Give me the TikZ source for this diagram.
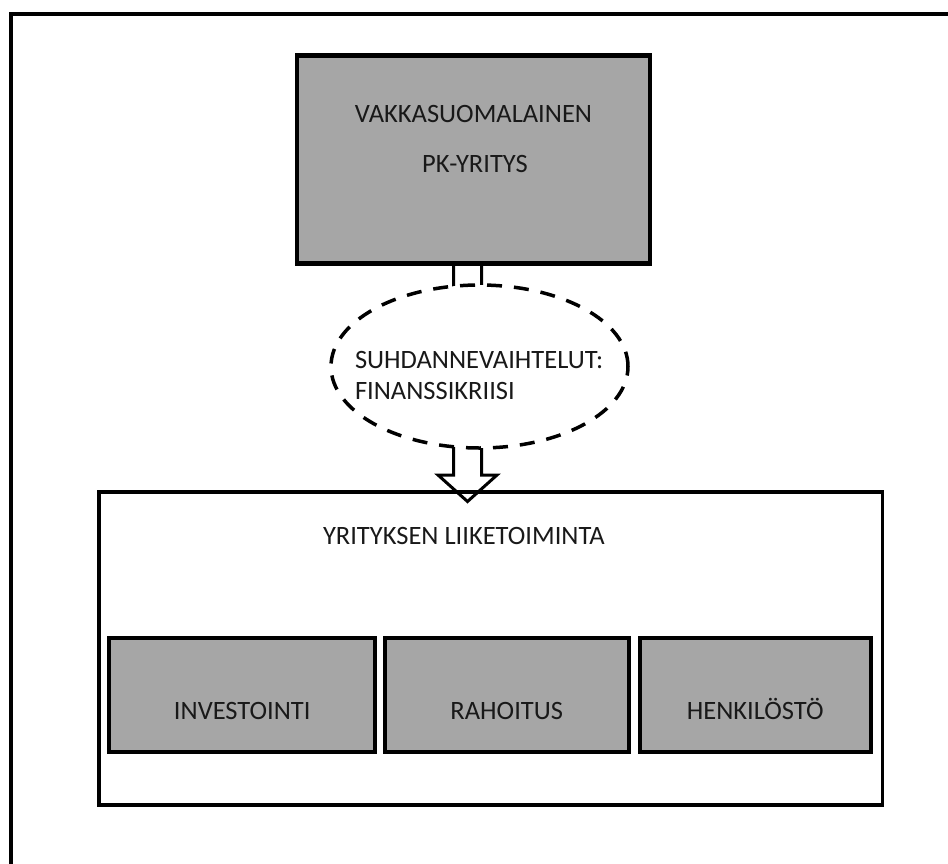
\documentclass[tikz,border=0pt]{standalone}
\usepackage{fontspec}
\setmainfont{Carlito}
\usetikzlibrary{shapes.geometric,calc}
\definecolor{boxgray}{HTML}{A6A6A6}
\tikzset{
  frameline/.style={draw=black, line width=3.5bp, line cap=rect},
  firmbox/.style={draw=black, line width=4.5bp, fill=boxgray, rectangle, inner sep=0pt, outer sep=0pt},
  workbox/.style={draw=black, line width=3.5bp, rectangle, inner sep=0pt, outer sep=0pt},
  subbox/.style={draw=black, line width=4bp, fill=boxgray, rectangle, inner sep=0pt, outer sep=0pt},
  cyclebox/.style={draw=black, line width=3.5bp, dash pattern=on 15bp off 12bp, fill=white, ellipse, inner sep=0pt, outer sep=0pt},
  blockarrow/.style={draw=black, line width=3bp, line join=miter},
  txt/.style={font=\fontsize{26.5bp}{31bp}\selectfont, inner sep=0pt, outer sep=0pt, text=black!90},
}
\begin{document}
\begin{tikzpicture}[x=1bp, y=-1bp]
\useasboundingbox (0,0) rectangle (948,864);

% outer frame: its right and bottom sides fall beyond the page edge
\coordinate (pageBL) at (11,864);
\coordinate (pageTL) at (11,14);
\coordinate (pageTR) at (948,14);
\draw[frameline] (pageBL) -- (pageTL) -- (pageTR);

% company box
\node[firmbox, minimum width=353bp, minimum height=208bp] (firm) at (473.5,159.5) {};
\node[txt, anchor=base] (firmA) at (473.5,122) {VAKKASUOMALAINEN};
\node[txt, anchor=base] (firmB) at (475,172) {PK-YRITYS};

% business operations box with its three parts
\node[workbox, minimum width=783.5bp, minimum height=313bp] (work) at (490.75,648.5) {};
\node[txt, anchor=base west] (workT) at (323,544) {YRITYKSEN LIIKETOIMINTA};

\node[subbox, minimum width=265.5bp, minimum height=114bp] (inv) at (242.25,695) {};
\node[subbox, minimum width=243.5bp, minimum height=114bp] (rah) at (506.75,695) {};
\node[subbox, minimum width=231.5bp, minimum height=114bp] (hen) at (755.25,695) {};
\node[txt, anchor=base] (invT) at (242.25,719) {INVESTOINTI};
\node[txt, anchor=base] (rahT) at (506.75,719) {RAHOITUS};
\node[txt, anchor=base] (henT) at (755.25,719) {HENKILÖSTÖ};

% hollow block arrow from the company down to its operations
\draw[blockarrow]
  ($(firm.south)+(-20,0)$)
  -- ($(firm.south |- work.north)+(-20,-17)$)
  -- ($(firm.south |- work.north)+(-35.5,-17)$)
  -- ($(firm.south |- work.north)+(-6,9.5)$)
  -- ($(firm.south |- work.north)+(23.5,-17)$)
  -- ($(firm.south |- work.north)+(8,-17)$)
  -- ($(firm.south)+(8,0)$);

% economic cycles on top of the arrow
\node[cyclebox, minimum width=297bp, minimum height=163bp] (cycle) at (479.5,366.5) {};
\node[txt, anchor=base west] (cycleA) at (355,368) {SUHDANNEVAIHTELUT:};
\node[txt, anchor=base west] (cycleB) at (355,399) {FINANSSIKRIISI};
\end{tikzpicture}
\end{document}
